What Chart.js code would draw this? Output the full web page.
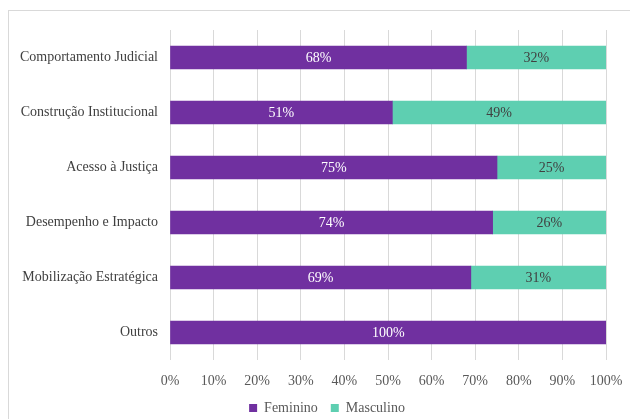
<!DOCTYPE html>
<html>
<head>
<meta charset="utf-8">
<script src="https://cdn.jsdelivr.net/npm/chart.js@4/dist/chart.umd.min.js"></script>
<style>
  html, body { margin: 0; padding: 0; background: #fff; overflow: hidden; }
  #wrap { position: relative; width: 630px; height: 419px; }
  #frame { position: absolute; left: 8px; top: 10px; width: 700px; height: 500px; border: 1px solid #d9d9d9; box-sizing: border-box; pointer-events: none; }
</style>
</head>
<body>
<div id="wrap">
  <div id="frame"></div>
  <canvas id="chart" width="630" height="419"></canvas>
</div>
<script>
// Data
const categories = [
  "Comportamento Judicial",
  "Construção Institucional",
  "Acesso à Justiça",
  "Desempenho e Impacto",
  "Mobilização Estratégica",
  "Outros"
];
const feminino = [68, 51, 75, 74, 69, 100];
const masculino = [32, 49, 25, 26, 31, 0];
const xTicks = [0, 10, 20, 30, 40, 50, 60, 70, 80, 90, 100];

const FONT = "'Liberation Serif', 'Times New Roman', serif";

// Draw the percentage in the middle of each bar
const barLabels = {
  id: "barLabels",
  afterDatasetsDraw(chart) {
    const ctx = chart.ctx;
    ctx.save();
    ctx.font = "14px " + FONT;
    ctx.textAlign = "center";
    ctx.textBaseline = "middle";
    chart.data.datasets.forEach((ds, i) => {
      const meta = chart.getDatasetMeta(i);
      meta.data.forEach((bar, j) => {
        const v = ds.data[j];
        if (!v) return;
        const cx = (bar.x + bar.base) / 2;
        ctx.fillStyle = i === 0 ? "#ffffff" : "#404040";
        ctx.fillText(v + "%", cx, bar.y + 1);
      });
    });
    ctx.restore();
  }
};

// Legend sits a bit right of the canvas centre in the original
const legendShift = {
  id: "legendShift",
  afterLayout(chart) {
    chart.legend.left += 24;
    chart.legend.right += 24;
  }
};

new Chart(document.getElementById("chart"), {
  type: "bar",
  data: {
    labels: categories,
    datasets: [
      { label: "Feminino", data: feminino, backgroundColor: "#7030a0" },
      { label: "Masculino", data: masculino, backgroundColor: "#5ecfb1" }
    ]
  },
  options: {
    indexAxis: "y",
    responsive: false,
    animation: false,
    layout: { padding: { top: 30, right: 24, bottom: -6, left: 0 } },
    datasets: { bar: { barThickness: 23 } },
    scales: {
      x: {
        stacked: true,
        min: 0,
        max: 100,
        afterBuildTicks: (axis) => { axis.ticks = xTicks.map(v => ({ value: v })); },
        afterFit: (axis) => {
          axis.height = 28;
          axis.paddingLeft = 0;
          axis.paddingRight = 0;
        },
        grid: { color: "#d9d9d9", drawTicks: false },
        border: { display: false },
        ticks: {
          padding: 13,
          color: "#595959",
          font: { family: FONT, size: 14 },
          callback: (v) => v + "%"
        }
      },
      y: {
        stacked: true,
        afterFit: (axis) => { axis.width = 170; },
        grid: { display: false, drawTicks: false },
        border: { display: false },
        ticks: {
          padding: 12,
          color: "#404040",
          font: { family: FONT, size: 14 }
        }
      }
    },
    plugins: {
      legend: {
        position: "bottom",
        labels: {
          boxWidth: 8,
          boxHeight: 8,
          padding: 13,
          color: "#595959",
          font: { family: FONT, size: 14 }
        }
      },
      tooltip: { enabled: false }
    }
  },
  plugins: [barLabels, legendShift]
});
</script>
</body>
</html>
